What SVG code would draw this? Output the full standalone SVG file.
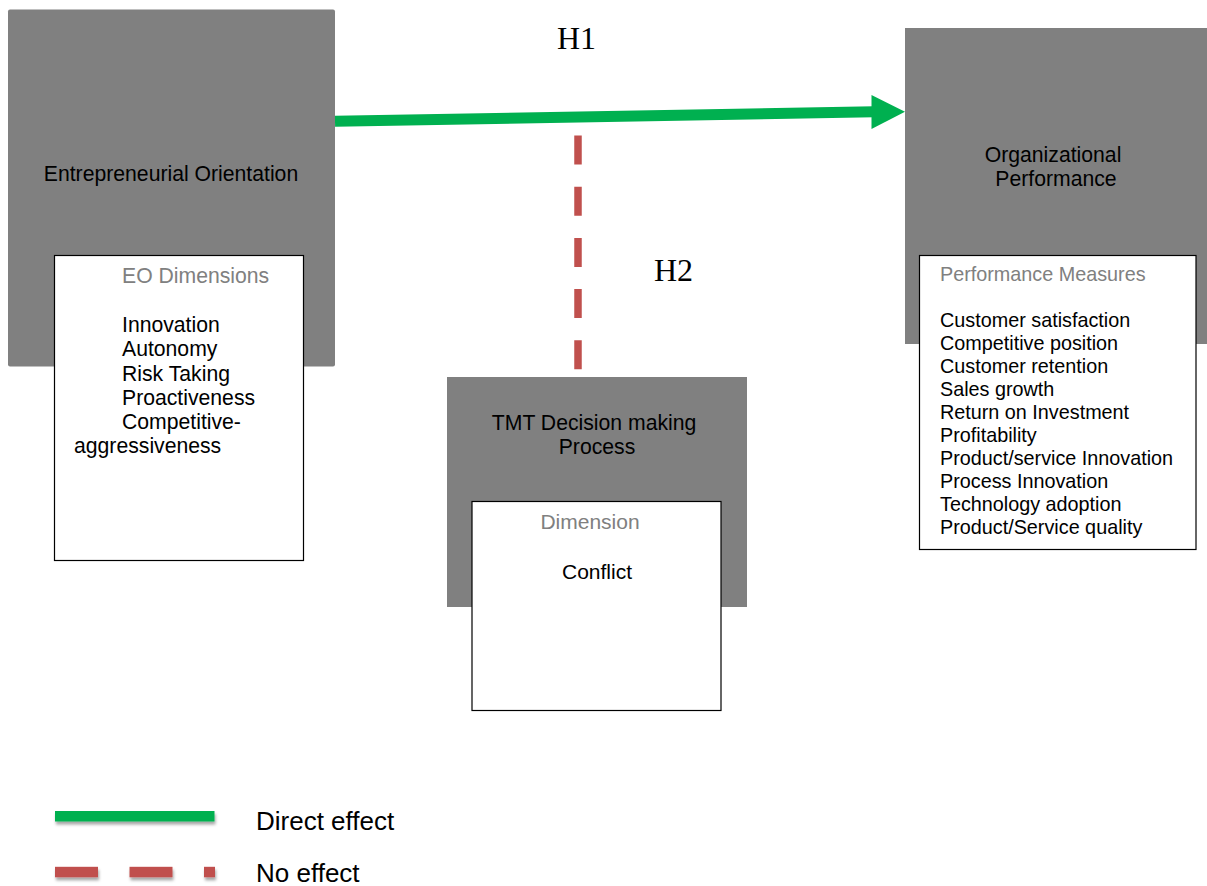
<svg xmlns="http://www.w3.org/2000/svg" width="1207" height="886" viewBox="0 0 1207 886">
<defs>
<style>
.outer{fill:#808080}
.inner{fill:#ffffff;stroke:#000000;stroke-width:1.2}
.t{font-family:"Liberation Sans",Arial,sans-serif;fill:#000000}
.g{font-family:"Liberation Sans",Arial,sans-serif;fill:#808080}
.h{font-family:"Liberation Serif","Times New Roman",serif;font-size:32px;fill:#000000}
.direct{stroke:#00B050;fill:none}
.none{stroke:#C0504D;fill:none}
</style>
<filter id="sh" filterUnits="userSpaceOnUse" x="40" y="795" width="200" height="95">
<feDropShadow dx="1" dy="3" stdDeviation="1.5" flood-color="#000" flood-opacity="0.35"/>
</filter>
</defs>
<rect width="1207" height="886" fill="#ffffff"/>

<g id="eo">
<rect class="outer" x="8" y="9.5" width="327" height="357" rx="2"/>
<text class="t" x="171" y="181" font-size="21.2" text-anchor="middle">Entrepreneurial Orientation</text>
<rect class="inner" x="54.5" y="255.5" width="249" height="305"/>
<text class="g" x="122" y="283" font-size="21.2">EO Dimensions</text>
<text class="t" font-size="21.2">
<tspan x="122" y="332">Innovation</tspan>
<tspan x="122" y="356">Autonomy</tspan>
<tspan x="122" y="381">Risk Taking</tspan>
<tspan x="122" y="405">Proactiveness</tspan>
<tspan x="122" y="429">Competitive-</tspan>
<tspan x="74" y="453">aggressiveness</tspan>
</text>
</g>

<g id="tmt">
<rect class="outer" x="447" y="377" width="300" height="230"/>
<text class="t" font-size="21.2" text-anchor="middle">
<tspan x="597" y="430">TMT Decision making</tspan>
<tspan x="597" y="454">Process</tspan>
</text>
<rect class="inner" x="472" y="501.5" width="249" height="209"/>
<text class="g" x="590" y="529" font-size="21" text-anchor="middle">Dimension</text>
<text class="t" x="597" y="579" font-size="21" text-anchor="middle">Conflict</text>
</g>

<g id="op">
<rect class="outer" x="905" y="28" width="302" height="316"/>
<text class="t" font-size="21.2" text-anchor="middle">
<tspan x="1056" y="162">Organizational</tspan>
<tspan x="1056" y="186">Performance</tspan>
</text>
<rect class="inner" x="919.5" y="255.5" width="276.5" height="294"/>
<text class="g" x="940" y="281" font-size="19.8">Performance Measures</text>
<text class="t" font-size="19.8">
<tspan x="940" y="327">Customer satisfaction</tspan>
<tspan x="940" y="350">Competitive position</tspan>
<tspan x="940" y="373">Customer retention</tspan>
<tspan x="940" y="396">Sales growth</tspan>
<tspan x="940" y="419">Return on Investment</tspan>
<tspan x="940" y="442">Profitability</tspan>
<tspan x="940" y="465">Product/service Innovation</tspan>
<tspan x="940" y="488">Process Innovation</tspan>
<tspan x="940" y="511">Technology adoption</tspan>
<tspan x="940" y="534">Product/Service quality</tspan>
</text>
</g>

<g id="connectors">
<line class="direct" x1="335" y1="121.2" x2="874" y2="111.8" stroke-width="11"/>
<polygon points="871.5,95 905,111.7 871.5,129" fill="#00B050"/>
<line class="none" x1="578" y1="135.5" x2="578" y2="370.5" stroke-width="7.5" stroke-dasharray="29 22.2"/>
<text class="h" x="557" y="49">H1</text>
<text class="h" x="654" y="281">H2</text>
</g>

<g id="legend">
<g filter="url(#sh)">
<rect x="55" y="811" width="159.5" height="10.5" fill="#00B050"/>
<rect x="55" y="866.8" width="43" height="10.5" fill="#C0504D"/>
<rect x="129.5" y="866.8" width="43" height="10.5" fill="#C0504D"/>
<rect x="204" y="866.8" width="11" height="10.5" fill="#C0504D"/>
</g>
<text class="t" x="256" y="829.5" font-size="26">Direct effect</text>
<text class="t" x="256" y="882" font-size="26">No effect</text>
</g>
</svg>
